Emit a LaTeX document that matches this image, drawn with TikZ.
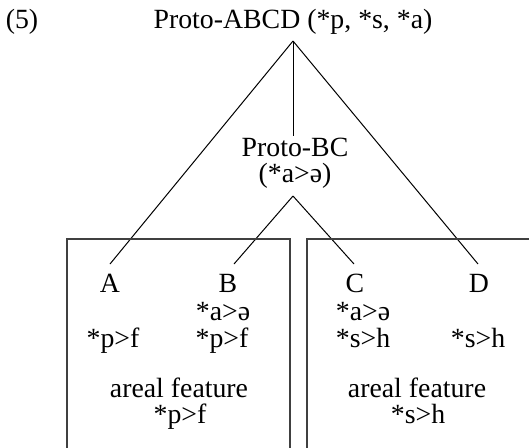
\documentclass[tikz,border=0pt]{standalone}
\usepackage{fontspec}
\setmainfont{Liberation Serif}
\begin{document}
\begin{tikzpicture}[x=0.5pt,y=-0.5pt,
  lbl/.style={anchor=base,inner sep=0pt,font=\fontsize{13.9}{16}\selectfont},
  treeline/.style={line width=0.5pt,black},
  boxline/.style={line width=0.7pt,black!75}]
\useasboundingbox (0,0) rectangle (529,447);
\clip (0,0) rectangle (529,447);
\node[lbl] (num) at (22,28) {(5)};
\node[lbl] (abcd) at (293,28) {Proto-ABCD (*p, *s, *a)};
\node[lbl] (bc) at (295,156) {Proto-BC};
\node[lbl] (bcchg) at (295,182) {(*a>ə)};
\coordinate (top) at (293,41);
\coordinate (vend) at (293,136);
\coordinate (bctop) at (293,196);
\coordinate (endA) at (110,264);
\coordinate (endB) at (234,264);
\coordinate (endC) at (354,264);
\coordinate (endD) at (478,264);
\draw[treeline] (top) -- (endA);
\draw[treeline] (top) -- (vend);
\draw[treeline] (top) -- (endD);
\draw[treeline] (bctop) -- (endB);
\draw[treeline] (bctop) -- (endC);
\draw[boxline] (67,460) -- (67,239) -- (290,239) -- (290,460);
\draw[boxline] (307,460) -- (307,239) -- (540,239);
\node[lbl] (A) at (110,292) {A};
\node[lbl] (B) at (228,292) {B};
\node[lbl] (C) at (355,292) {C};
\node[lbl] (D) at (479,292) {D};
\node[lbl] (Ba) at (223,320) {*a>ə};
\node[lbl] (Ca) at (363,320) {*a>ə};
\node[lbl] (Ap) at (113,347) {*p>f};
\node[lbl] (Bp) at (222,347) {*p>f};
\node[lbl] (Cs) at (363,347) {*s>h};
\node[lbl] (Ds) at (478,347) {*s>h};
\node[lbl] (arL) at (179,397) {areal feature};
\node[lbl] (arLp) at (180,423) {*p>f};
\node[lbl] (arR) at (417,397) {areal feature};
\node[lbl] (arRs) at (418,423) {*s>h};
\end{tikzpicture}
\end{document}
